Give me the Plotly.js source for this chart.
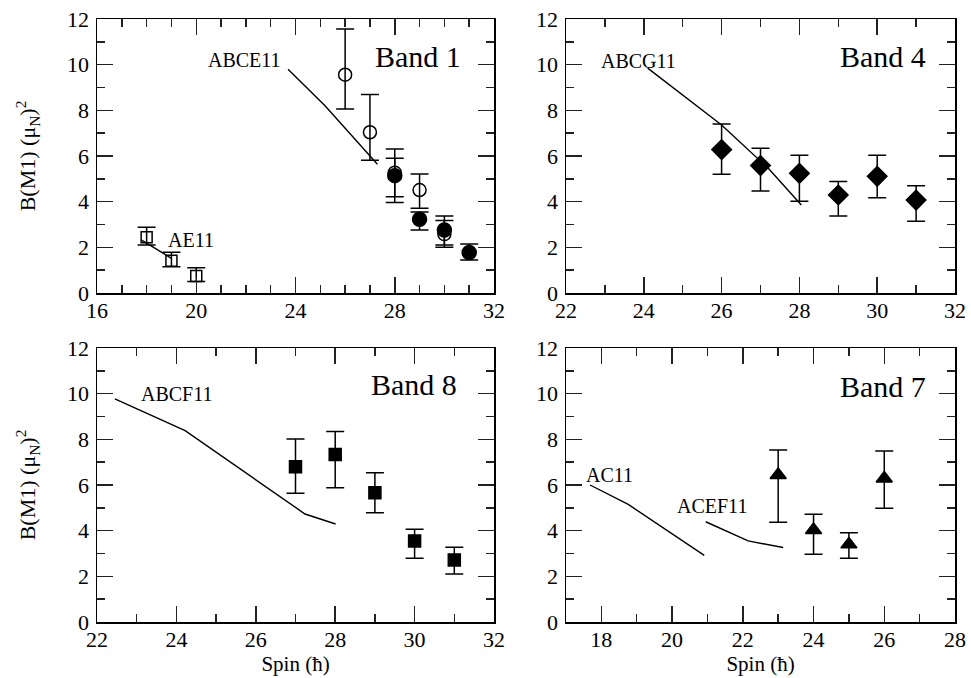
<!DOCTYPE html>
<html>
<head>
<meta charset="utf-8">
<script src="https://cdn.plot.ly/plotly-3.0.1.min.js"></script>
<style>html,body{margin:0;padding:0;background:#fff;}#chart{width:971px;height:678px;}</style>
</head>
<body>
<div id="chart"></div>
<script>
// ---- Band 1 ----
const b1SqX = [18, 19, 20];
const b1SqY = [2.44, 1.41, 0.74];
const b1SqHi = [2.88, 1.78, 1.11];
const b1SqLo = [2.10, 1.15, 0.50];
const b1OpenX = [26, 27, 28, 29, 30];
const b1OpenY = [9.56, 7.04, 5.27, 4.51, 2.58];
const b1OpenHi = [11.56, 8.69, 6.31, 5.21, 3.37];
const b1OpenLo = [8.06, 5.81, 3.96, 3.71, 2.00];
const b1FillX = [28, 29, 30, 31];
const b1FillY = [5.14, 3.23, 2.76, 1.77];
const b1FillHi = [5.90, 3.55, 3.17, 2.15];
const b1FillLo = [4.22, 2.76, 2.10, 1.45];
const ae11X = [17.8, 19.0];
const ae11Y = [2.32, 1.52];
const abce11X = [23.7, 25.2, 27.3];
const abce11Y = [9.80, 8.19, 5.64];
// ---- Band 4 ----
const b4X = [26, 27, 28, 29, 30, 31];
const b4Y = [6.28, 5.58, 5.24, 4.29, 5.11, 4.07];
const b4Hi = [7.40, 6.34, 6.03, 4.88, 6.03, 4.70];
const b4Lo = [5.20, 4.47, 4.02, 3.37, 4.17, 3.14];
const abcg11X = [24.1, 26.0, 27.2, 28.05];
const abcg11Y = [9.85, 7.36, 5.46, 3.85];
// ---- Band 8 ----
const b8X = [27, 28, 29, 30, 31];
const b8Y = [6.80, 7.34, 5.66, 3.55, 2.72];
const b8Hi = [8.02, 8.34, 6.54, 4.06, 3.27];
const b8Lo = [5.64, 5.88, 4.79, 2.79, 2.10];
const abcf11X = [22.45, 24.22, 27.24, 28.01];
const abcf11Y = [9.77, 8.38, 4.73, 4.29];
// ---- Band 7 ----
const b7X = [23, 24, 25, 26];
const b7Y = [6.44, 4.03, 3.40, 6.29];
const b7Hi = [7.53, 4.72, 3.91, 7.49];
const b7Lo = [4.37, 2.97, 2.79, 4.98];
const ac11X = [17.68, 18.76, 20.91];
const ac11Y = [6.00, 5.15, 2.92];
const acef11X = [20.95, 22.15, 23.14];
const acef11Y = [4.39, 3.55, 3.26];

const FONT = '"Liberation Serif", "DejaVu Serif", serif';
const INK = '#000';

function errTrace(x, y, hi, lo, symbol, size, xa, ya) {
  return {
    type: 'scatter', mode: 'markers', x: x, y: y, xaxis: xa, yaxis: ya,
    marker: {symbol: symbol, size: size, color: INK, line: {color: INK, width: 1.5}},
    error_y: {type: 'data', symmetric: false,
      array: hi.map((v, i) => v - y[i]),
      arrayminus: lo.map((v, i) => y[i] - v),
      color: INK, thickness: 1.5, width: 9},
    showlegend: false, cliponaxis: false
  };
}
function lineTrace(x, y, xa, ya) {
  return {type: 'scatter', mode: 'lines', x: x, y: y, xaxis: xa, yaxis: ya,
    line: {color: INK, width: 1.4}, showlegend: false};
}

const data = [
  lineTrace(ae11X, ae11Y, 'x', 'y'),
  lineTrace(abce11X, abce11Y, 'x', 'y'),
  errTrace(b1SqX, b1SqY, b1SqHi, b1SqLo, 'square-open', 11, 'x', 'y'),
  errTrace(b1OpenX, b1OpenY, b1OpenHi, b1OpenLo, 'circle-open', 13, 'x', 'y'),
  errTrace(b1FillX, b1FillY, b1FillHi, b1FillLo, 'circle', 14, 'x', 'y'),
  lineTrace(abcg11X, abcg11Y, 'x2', 'y2'),
  errTrace(b4X, b4Y, b4Hi, b4Lo, 'diamond', 15, 'x2', 'y2'),
  lineTrace(abcf11X, abcf11Y, 'x3', 'y3'),
  errTrace(b8X, b8Y, b8Hi, b8Lo, 'square', 12, 'x3', 'y3'),
  lineTrace(ac11X, ac11Y, 'x4', 'y4'),
  lineTrace(acef11X, acef11Y, 'x4', 'y4'),
  errTrace(b7X, b7Y, b7Hi, b7Lo, 'triangle-up', 14, 'x4', 'y4')
];

function xAxis(range, dtick, domain, anchor, title) {
  const ax = {
    range: range, domain: domain, anchor: anchor, dtick: dtick, tick0: 0,
    ticks: 'inside', ticklen: 16, tickwidth: 1.5, tickcolor: '#222',
    minor: {dtick: 1, ticks: 'inside', ticklen: 8, tickwidth: 1.5, tickcolor: '#222'},
    showline: true, linecolor: INK, linewidth: 1.5, mirror: 'allticks',
    showgrid: false, zeroline: false,
    tickfont: {family: FONT, size: 22, color: INK}, ticklabelstandoff: -3
  };
  if (title) ax.title = {text: title, font: {family: FONT, size: 21, color: INK}, standoff: 3};
  return ax;
}
function yAxis(domain, anchor, title) {
  const ax = {
    range: [0, 12], domain: domain, anchor: anchor, dtick: 2, tick0: 0,
    ticks: 'inside', ticklen: 16, tickwidth: 1.5, tickcolor: '#222',
    minor: {dtick: 1, ticks: 'inside', ticklen: 8, tickwidth: 1.5, tickcolor: '#222'},
    showline: true, linecolor: INK, linewidth: 1.5, mirror: 'allticks',
    showgrid: false, zeroline: false,
    tickfont: {family: FONT, size: 22, color: INK}, ticklabelstandoff: 2
  };
  if (title) ax.title = {text: title, font: {family: FONT, size: 22, color: INK}, standoff: 25};
  return ax;
}

const xL = [97/971, 494/971], xR = [566/971, 955/971];
const yT = [1 - 293/678, 1 - 19/678], yB = [1 - 622/678, 1 - 348/678];
const yTitle = 'B(M1) (μ<sub>N</sub>)<sup>2</sup>';

function lab(text, x, y, xa, ya, size, anchor) {
  return {text: text, x: x, y: y, xref: xa, yref: ya, showarrow: false,
    xanchor: anchor || 'center', yanchor: 'middle',
    font: {family: FONT, size: size, color: INK}};
}

const layout = {
  width: 971, height: 678,
  margin: {l: 0, r: 0, t: 0, b: 0},
  paper_bgcolor: '#fff', plot_bgcolor: '#fff',
  showlegend: false,
  font: {family: FONT, color: INK},
  xaxis: xAxis([16, 32], 4, xL, 'y'),
  yaxis: yAxis(yT, 'x', yTitle),
  xaxis2: xAxis([22, 32], 2, xR, 'y2'),
  yaxis2: yAxis(yT, 'x2'),
  xaxis3: xAxis([22, 32], 2, xL, 'y3', 'Spin (ħ)'),
  yaxis3: yAxis(yB, 'x3', yTitle),
  xaxis4: xAxis([17, 28], 2, xR, 'y4', 'Spin (ħ)'),
  yaxis4: yAxis(yB, 'x4'),
  annotations: [
    lab('Band 1', 30.76, 10.35, 'x', 'y', 30, 'right'),
    lab('Band 4', 31.31, 10.35, 'x2', 'y2', 30, 'right'),
    lab('Band 8', 31.12, 10.4, 'x3', 'y3', 30, 'right'),
    lab('Band 7', 27.23, 10.3, 'x4', 'y4', 30, 'right'),
    lab('ABCE11', 21.94, 10.2, 'x', 'y', 20),
    lab('AE11', 19.78, 2.32, 'x', 'y', 20),
    lab('ABCG11', 23.86, 10.15, 'x2', 'y2', 20),
    lab('ABCF11', 24.02, 9.99, 'x3', 'y3', 20),
    lab('AC11', 18.23, 6.44, 'x4', 'y4', 20),
    lab('ACEF11', 21.14, 5.09, 'x4', 'y4', 20)
  ]
};

Plotly.newPlot('chart', data, layout, {displayModeBar: false, staticPlot: true});
</script>
</body>
</html>
